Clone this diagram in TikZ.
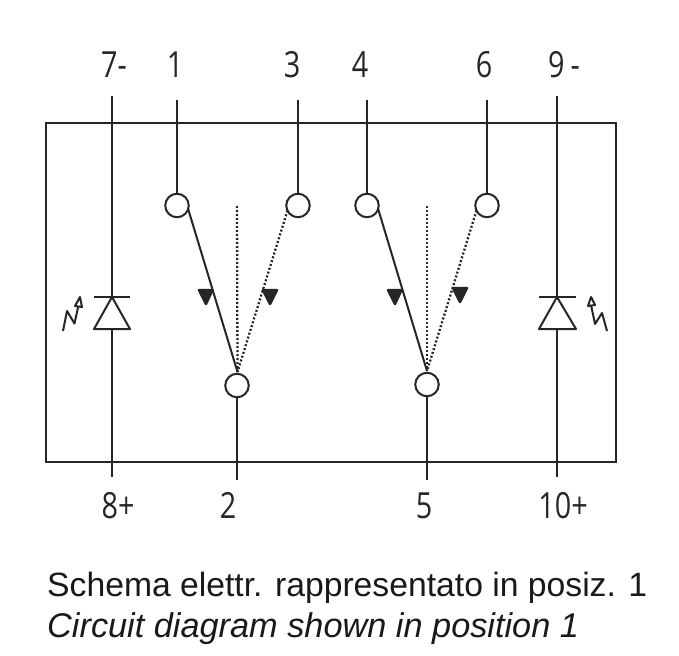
\documentclass[tikz,border=0pt]{standalone}
\usepackage{fontspec}
\setmainfont{Liberation Sans}
\newfontfamily\labfont[FakeStretch=0.8]{Open Sans}
\usetikzlibrary{calc}
\tikzset{
  wire/.style={line width=2pt,draw=black!85},
  dots/.style={line width=2.3pt,draw=black!85,dash pattern=on 2pt off 2pt},
  term/.style={circle,draw=black!85,line width=2pt,fill=white,minimum size=23.5pt,inner sep=0pt,outer sep=0pt},
  pinlabel/.style={font=\labfont\fontsize{36}{36}\selectfont,text=black!85,inner sep=0pt,anchor=base},
  captext/.style={font=\fontsize{33.7}{38}\selectfont,text=black!90,inner sep=0pt,anchor=base west},
  tri/.style={fill=black!85,draw=black!85,line width=2.5pt,line join=round},
  led/.style={line width=2pt,draw=black!85,line join=round}
}
\begin{document}
\begin{tikzpicture}[x=1pt,y=-1pt]
\useasboundingbox (0,0) rectangle (679,655);
% box
\node[draw=black!85,line width=2pt,minimum width=570pt,minimum height=339pt,inner sep=0pt,anchor=north west] (box) at (45,122) {};
% pin labels
\node[pinlabel] (l7) at (114,78) {7-};
\node[pinlabel] (l1) at (175,78) {1};
\node[pinlabel] (l3) at (292,78) {3};
\node[pinlabel] (l4) at (360,78) {4};
\node[pinlabel] (l6) at (484,78) {6};
\node[pinlabel] (l9) at (564,78) {9\,-};
\node[pinlabel] (l8) at (118,518) {8+};
\node[pinlabel] (l2) at (228,518) {2};
\node[pinlabel] (l5) at (424,518) {5};
\node[pinlabel] (l10) at (563,518) {10+};
% free ends
\coordinate (t7) at (112,96);
\coordinate (t1) at (177,100);
\coordinate (t3) at (298,100);
\coordinate (t4) at (367,100);
\coordinate (t6) at (487,100);
\coordinate (t9) at (557,96);
\coordinate (b8) at (112,477);
\coordinate (b2) at (237,480);
\coordinate (b5) at (427,480);
\coordinate (b10) at (557,477);
% terminals
\node[term] (c1) at (177,205.5) {};
\node[term] (c3) at (298,205.5) {};
\node[term] (c4) at (367,205.5) {};
\node[term] (c6) at (487,205.5) {};
\node[term] (c2) at (237,385.5) {};
\node[term] (c5) at (427,384.5) {};
\draw[wire] (t1) -- (c1.north);
\draw[wire] (t3) -- (c3.north);
\draw[wire] (t4) -- (c4.north);
\draw[wire] (t6) -- (c6.north);
\draw[wire] (c2.south) -- (b2);
\draw[wire] (c5.south) -- (b5);
% contacts
\coordinate (p2) at (237.5,372);
\coordinate (p5) at (427,371);
\coordinate (m2) at (237,206);
\coordinate (m5) at (427,206);
\draw[wire] (c1) ++(11,3) -- (p2);
\draw[dots] (c3) ++(-10.5,5) -- (p2);
\draw[dots] (m2) -- (p2);
\draw[wire] (c4) ++(11,3) -- (p5);
\draw[dots] (c6) ++(-10.5,5) -- (p5);
\draw[dots] (m5) -- (p5);
% arrows
\filldraw[tri] (199,290) -- (212.5,290) -- (206,304) -- cycle;
\filldraw[tri] (263,290) -- (277,290) -- (270,304) -- cycle;
\filldraw[tri] (388,290) -- (401.5,290) -- (395,304) -- cycle;
\filldraw[tri] (453,288) -- (467,288) -- (460,302) -- cycle;
% LEDs
\coordinate (a1) at (112,297);
\coordinate (a2) at (112,329);
\coordinate (a3) at (557,297);
\coordinate (a4) at (557,329);
\draw[wire] (t7) -- (a1);
\draw[wire] (a2) -- (b8);
\draw[wire] (t9) -- (a3);
\draw[wire] (a4) -- (b10);
\draw[led] (94,297) -- (130,297);
\draw[led] (a1) -- (94,329) -- (130,329) -- cycle;
\draw[led] (539,297) -- (576,297);
\draw[led] (a3) -- (539,329) -- (576,329) -- cycle;
% light signs
\draw[led] (63,331) -- (67,311) -- (74.5,323.5) -- (79,303);
\draw[led,fill=white] (75,306) -- (80,297) -- (82,307) -- cycle;
\draw[led] (607,331) -- (602,313) -- (595,324) -- (591,305);
\draw[led,fill=white] (588,306) -- (591,297) -- (595,305) -- cycle;
% caption
\node[captext] (c1t) at (47,596) {Schema elettr. rappresentato in posiz. 1};
\node[captext,font=\fontsize{34.3}{38}\selectfont\itshape] (c2t) at (47,637) {Circuit diagram shown in position 1};
\end{tikzpicture}
\end{document}
